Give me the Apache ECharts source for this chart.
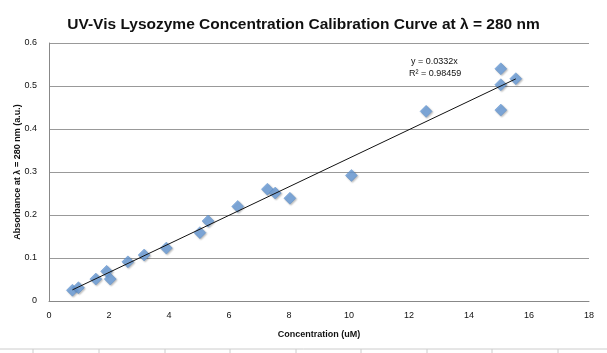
<!DOCTYPE html>
<html>
<head>
<meta charset="utf-8">
<script src="https://cdn.jsdelivr.net/npm/echarts@6/dist/echarts.min.js"></script>
<style>
html, body { margin: 0; padding: 0; background: #fff; }
#chart { width: 607px; height: 353px; }
</style>
</head>
<body>
<div id="chart"></div>
<script>
// concentration (uM) and absorbance
var concentration = [0.78, 0.98, 1.56, 1.92, 2.04, 2.63, 3.17, 3.91, 5.03, 5.3, 6.29, 7.28, 7.54, 8.03, 10.08, 12.57, 15.06, 15.06, 15.06, 15.56];
var absorbance = [0.025, 0.031, 0.051, 0.069, 0.051, 0.091, 0.107, 0.123, 0.159, 0.186, 0.220, 0.260, 0.251, 0.239, 0.292, 0.441, 0.540, 0.503, 0.444, 0.517];
var slope = 0.0332;
var eqLabel = 'y = 0.0332x';
var r2Label = 'R\u00b2 = 0.98459';

(function(){
  var myChart = echarts.init(document.getElementById('chart'));

  var points = concentration.map(function (c, i) { return [c, absorbance[i]]; });
  var xMin = Math.min.apply(null, concentration);
  var xMax = Math.max.apply(null, concentration);
  var trend = [[xMin, slope * xMin], [xMax, slope * xMax]];

  var font = 'Liberation Sans, Arial, sans-serif';

  option = {
    animation: false,
    title: {
      text: 'UV-Vis Lysozyme Concentration Calibration Curve at \u03bb = 280 nm',
      left: 'center',
      top: 12,
      textStyle: { fontFamily: font, fontSize: 15.5, fontWeight: 'bold', color: '#111' }
    },
    grid: { left: 49, right: 18, top: 43, bottom: 52, containLabel: false, outerBoundsMode: 'none' },
    xAxis: {
      type: 'value',
      min: 0, max: 18, interval: 2,
      name: 'Concentration (uM)',
      nameLocation: 'middle',
      nameGap: 29,
      nameMoveOverlap: false,
      nameTextStyle: { fontFamily: font, fontSize: 9, fontWeight: 'bold', color: '#111' },
      axisLine: { lineStyle: { color: '#888' } },
      axisTick: { show: false },
      axisLabel: { fontFamily: font, fontSize: 9, color: '#111', margin: 10 },
      splitLine: { show: false }
    },
    yAxis: {
      type: 'value',
      min: 0, max: 0.6, interval: 0.1,
      name: 'Absorbance at \u03bb = 280 nm (a.u.)',
      nameLocation: 'middle',
      nameGap: 27,
      nameMoveOverlap: false,
      nameTextStyle: { fontFamily: font, fontSize: 9, fontWeight: 'bold', color: '#111' },
      axisLine: { show: true, lineStyle: { color: '#888' } },
      axisTick: { show: false },
      axisLabel: { fontFamily: font, fontSize: 9, color: '#111', margin: 12 },
      splitLine: { lineStyle: { color: '#999', width: 1 } }
    },
    graphic: [
      { type: 'text', left: 411, top: 57, style: { text: eqLabel, font: '9px ' + font, fill: '#111' } },
      { type: 'text', left: 409, top: 69, style: { text: r2Label, font: '9px ' + font, fill: '#111' } },
      { type: 'line', shape: { x1: 0, y1: 349, x2: 607, y2: 349 }, style: { stroke: '#ccc', lineWidth: 1 } }
    ],
    series: [
      {
        name: 'trend',
        type: 'line',
        data: trend,
        symbol: 'none',
        lineStyle: { color: '#111', width: 1 },
        z: 3
      },
      {
        name: 'data',
        type: 'scatter',
        data: points,
        symbol: 'diamond',
        symbolSize: 12,
        itemStyle: {
          color: '#6b9fdc',
          borderColor: '#4f86c6',
          borderWidth: 0.5,
          shadowBlur: 2,
          shadowColor: 'rgba(0,0,0,0.35)',
          shadowOffsetX: 1,
          shadowOffsetY: 1
        },
        z: 2
      }
    ]
  };

  // spreadsheet cell borders under the chart
  [33, 99, 165, 230, 296, 361, 427, 492, 558].forEach(function (x) {
    option.graphic.push({ type: 'line', shape: { x1: x, y1: 349, x2: x, y2: 353 }, style: { stroke: '#ccc', lineWidth: 1 } });
  });

  myChart.setOption(option);
})();
</script>
</body>
</html>
